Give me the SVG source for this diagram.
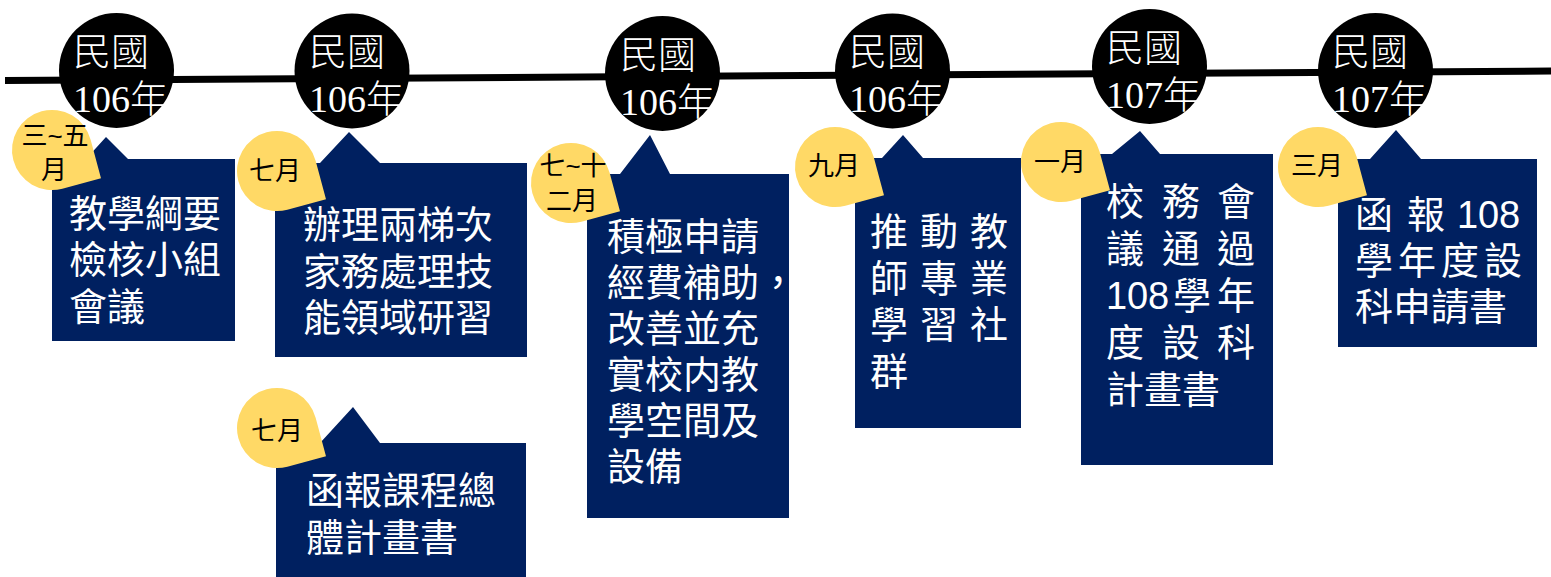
<svg xmlns="http://www.w3.org/2000/svg" width="1551" height="577" viewBox="0 0 1551 577">
<style>
.yr{fill:#fff;font-family:"Liberation Serif","Noto Sans CJK TC",serif;font-size:38px;font-weight:300}
.box{fill:#002060}
.badge{fill:#FFD966}
.bt{fill:#000;font-family:"Liberation Sans","Noto Sans CJK TC",sans-serif;font-size:26px;text-anchor:middle}
.tx{fill:#fff;font-family:"Liberation Sans","Noto Sans CJK TC",sans-serif;font-size:38px}
</style>
<defs>
<path id="tear" d="M40,0 L40,40 L0,40 A40,40 0 1 1 40,0 Z"/>
</defs>
<rect width="1551" height="577" fill="#fff"/>
<g id="connectors">
<line x1="5" y1="80.5" x2="1551" y2="71" stroke="#000" stroke-width="7"/>
</g>
<g id="year1"><circle cx="116.5" cy="70.5" r="57.5" fill="#000"/><text class="yr"><tspan x="73" y="64.5">民國</tspan><tspan x="73" y="111.5">106年</tspan></text></g>
<g id="year2"><circle cx="352" cy="71" r="57.5" fill="#000"/><text class="yr"><tspan x="309" y="65">民國</tspan><tspan x="309" y="112">106年</tspan></text></g>
<g id="year3"><circle cx="662.5" cy="73.5" r="57.5" fill="#000"/><text class="yr"><tspan x="620" y="67.5">民國</tspan><tspan x="620" y="114.5">106年</tspan></text></g>
<g id="year4"><circle cx="892.5" cy="71" r="57.5" fill="#000"/><text class="yr"><tspan x="849" y="65">民國</tspan><tspan x="849" y="112">106年</tspan></text></g>
<g id="year5"><circle cx="1149.5" cy="66.5" r="57.5" fill="#000"/><text class="yr"><tspan x="1106" y="60.5">民國</tspan><tspan x="1106" y="107.5">107年</tspan></text></g>
<g id="year6"><circle cx="1375.5" cy="70.5" r="57.5" fill="#000"/><text class="yr"><tspan x="1332" y="64.5">民國</tspan><tspan x="1332" y="111.5">107年</tspan></text></g>

<g id="event1">
<path class="box" d="M52,159 L86,159 L106,137 L128,159 L235,159 L235,341 L52,341 Z"/>
<use href="#tear" class="badge" transform="translate(52,150) rotate(-15)"/>
<text class="bt"><tspan x="55" y="145">三~五</tspan><tspan x="54" y="179">月</tspan></text>
<text class="tx"><tspan x="69" y="227">教學綱要</tspan><tspan x="69" y="273">檢核小組</tspan><tspan x="69" y="320">會議</tspan></text>
</g>
<g id="event2">
<path class="box" d="M275,163 L320,163 L349,132 L380,163 L527,163 L527,357 L275,357 Z"/>
<use href="#tear" class="badge" transform="translate(277,171) rotate(-15)"/>
<text class="bt" x="275" y="180">七月</text>
<text class="tx"><tspan x="303" y="238">辦理兩梯次</tspan><tspan x="303" y="284.5">家務處理技</tspan><tspan x="303" y="331">能領域研習</tspan></text>
</g>
<g id="event3">
<path class="box" d="M276,443 L320,443 L353,407 L380,443 L526,443 L526,580 L276,580 Z"/>
<use href="#tear" class="badge" transform="translate(277,428) rotate(-15)"/>
<text class="bt" x="277" y="440">七月</text>
<text class="tx"><tspan x="306" y="504">函報課程總</tspan><tspan x="306" y="551">體計畫書</tspan></text>
</g>
<g id="event4">
<path class="box" d="M587,174 L620,174 L650,135 L670,174 L789,174 L789,518 L587,518 Z"/>
<use href="#tear" class="badge" transform="translate(571,183) rotate(-15)"/>
<text class="bt"><tspan x="573" y="175">七~十</tspan><tspan x="572" y="210">二月</tspan></text>
<text class="tx"><tspan x="607" y="250">積極申請</tspan><tspan x="607" y="296">經費補助，</tspan><tspan x="607" y="342">改善並充</tspan><tspan x="607" y="388">實校内教</tspan><tspan x="607" y="434">學空間及</tspan><tspan x="607" y="480">設備</tspan></text>
</g>
<g id="event5">
<path class="box" d="M855,158 L882,158 L903,135 L923,158 L1021,158 L1021,428 L855,428 Z"/>
<use href="#tear" class="badge" transform="translate(835,167) rotate(-15)"/>
<text class="bt" x="834" y="175">九月</text>
<text class="tx"><tspan x="870 920 970" y="245">推動教</tspan><tspan x="870 920 970" y="291.5">師專業</tspan><tspan x="870 920 970" y="338">學習社</tspan><tspan x="870" y="385">群</tspan></text>
</g>
<g id="event6">
<path class="box" d="M1081,154 L1112,154 L1140,131 L1160,154 L1273,154 L1273,465 L1081,465 Z"/>
<use href="#tear" class="badge" transform="translate(1061,162) rotate(-15)"/>
<text class="bt" x="1060" y="171">一月</text>
<text class="tx"><tspan x="1106 1162 1217" y="215">校務會</tspan><tspan x="1106 1162 1217" y="262">議通過</tspan><tspan x="1106 1127 1148 1173 1217" y="309">108學年</tspan><tspan x="1106 1162 1217" y="356">度設科</tspan><tspan x="1106" y="403">計畫書</tspan></text>
</g>
<g id="event7">
<path class="box" d="M1338,159 L1370,159 L1396,130 L1421,159 L1537,159 L1537,347 L1338,347 Z"/>
<use href="#tear" class="badge" transform="translate(1318,167) rotate(-15)"/>
<text class="bt" x="1317" y="175">三月</text>
<text class="tx"><tspan x="1355 1407 1457 1478 1499" y="228">函報108</tspan><tspan x="1355 1398 1441 1484" y="274">學年度設</tspan><tspan x="1355" y="320">科申請書</tspan></text>
</g>
</svg>
